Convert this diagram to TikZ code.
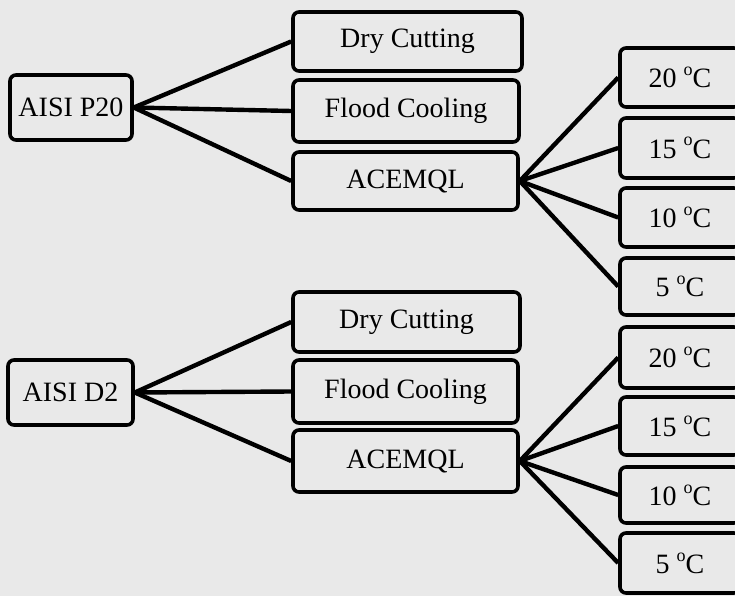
\documentclass[tikz,border=0pt]{standalone}
\usepackage{fontspec}
\setmainfont{Liberation Serif}
\definecolor{bg}{HTML}{E9E9E9}
\newcommand{\degC}{\raisebox{0.95ex}{\fontsize{18}{20}\selectfont o}C}
\begin{document}
\begin{tikzpicture}[x=1pt,y=-1pt,
  box/.style={draw=black, line width=3.6pt, rounded corners=6pt, inner sep=0pt,
    font=\fontsize{28}{30}\selectfont, fill=bg},
  conn/.style={line width=4.4pt, black}]
\useasboundingbox (0,0) rectangle (735,596);
\clip (0,0) rectangle (735,596);
\fill[bg] (0,0) rectangle (735,596);
% upper group
\node[box, minimum width=122pt, minimum height=65pt] (p20) at (71,107.5) {AISI P20};
\node[box, minimum width=229pt, minimum height=59pt] (dry1) at (407.5,41.5) {Dry Cutting};
\node[box, minimum width=226pt, minimum height=62pt] (flood1) at (406,111) {Flood Cooling};
\node[box, minimum width=225pt, minimum height=58pt] (ace1) at (405.5,181) {ACEMQL};
\node[box, minimum width=120pt, minimum height=59pt] (ta1) at (680,77.5) {20 \degC};
\node[box, minimum width=120pt, minimum height=60pt] (tb1) at (680,148) {15 \degC};
\node[box, minimum width=120pt, minimum height=59pt] (tc1) at (680,217.5) {10 \degC};
\node[box, minimum width=120pt, minimum height=57pt] (td1) at (680,286.5) {5 \degC};
% lower group
\node[box, minimum width=125pt, minimum height=65pt] (d2) at (70.5,392.5) {AISI D2};
\node[box, minimum width=227pt, minimum height=60pt] (dry2) at (406.5,322) {Dry Cutting};
\node[box, minimum width=225pt, minimum height=63pt] (flood2) at (405.5,391.5) {Flood Cooling};
\node[box, minimum width=225pt, minimum height=62pt] (ace2) at (405.5,461) {ACEMQL};
\node[box, minimum width=120pt, minimum height=61pt] (ta2) at (680,357.5) {20 \degC};
\node[box, minimum width=120pt, minimum height=58pt] (tb2) at (680,426) {15 \degC};
\node[box, minimum width=120pt, minimum height=56pt] (tc2) at (680,495) {10 \degC};
\node[box, minimum width=120pt, minimum height=60pt] (td2) at (680,563) {5 \degC};
% connectors
\foreach \s/\t in {p20/dry1, p20/flood1, p20/ace1, ace1/ta1, ace1/tb1, ace1/tc1, ace1/td1,
                   d2/dry2, d2/flood2, d2/ace2, ace2/ta2, ace2/tb2, ace2/tc2, ace2/td2}
  \draw[conn] (\s.east) -- (\t.west);
\end{tikzpicture}
\end{document}
